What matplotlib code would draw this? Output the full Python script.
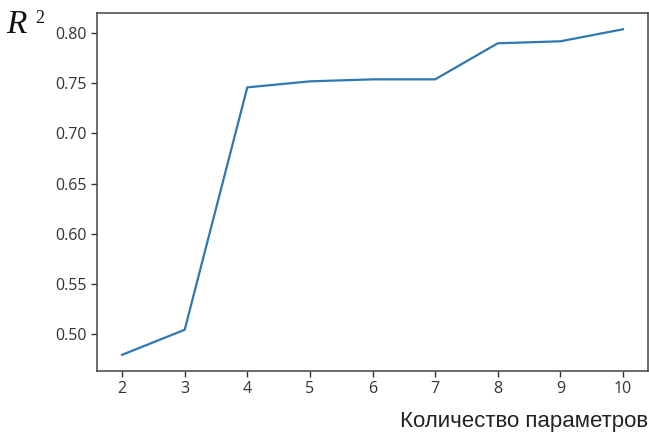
import matplotlib
matplotlib.use("Agg")
import matplotlib.pyplot as plt

# число параметров модели и полученный коэффициент детерминации
n_params = [2, 3, 4, 5, 6, 7, 8, 9, 10]
r2_values = [0.479, 0.504, 0.746, 0.752, 0.754, 0.754, 0.790, 0.792, 0.804]
y_ticks = [0.50, 0.55, 0.60, 0.65, 0.70, 0.75, 0.80]

fig = plt.figure(figsize=(6.49, 4.33), dpi=100)
ax = fig.add_axes([0.1495, 0.143, 0.849, 0.827])

ax.plot(n_params, r2_values, color="#2f78b0", linewidth=1.6)

ax.set_xticks(n_params)
ax.set_yticks(y_ticks)
ax.set_yticklabels([f"{v:.2f}" for v in y_ticks])
ax.tick_params(labelsize=11.5, colors="#333333", length=4, width=1)
for lab in ax.get_xticklabels() + ax.get_yticklabels():
    lab.set_family("Open Sans")
for sp in ax.spines.values():
    sp.set_color("#444444")
    sp.set_linewidth(1.1)

# подпись оси Y: R с надстрочной двойкой
fig.text(0.010, 0.942, "R", fontsize=24, family="Liberation Serif",
         style="italic", ha="left", va="center", color="#111111")
fig.text(0.054, 0.958, "2", fontsize=13, family="Liberation Serif",
         ha="left", va="center", color="#111111")
fig.text(0.998, 0.027, "Количество параметров", fontsize=16,
         family="Liberation Sans", ha="right", va="center", color="#222222")

fig.savefig("out.png", dpi=100)
